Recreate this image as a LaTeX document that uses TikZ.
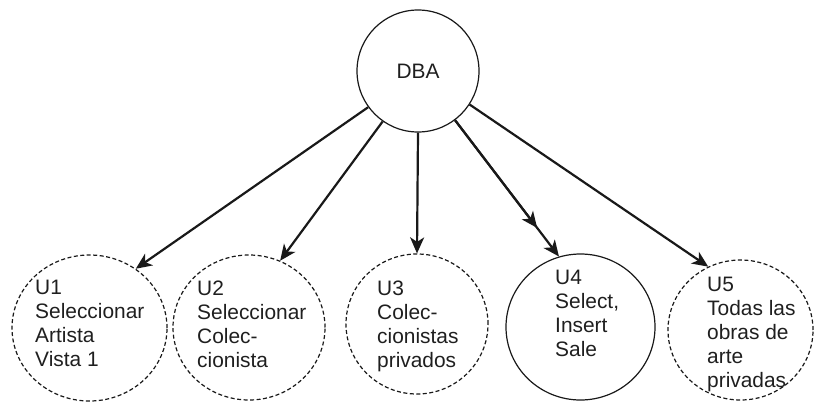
\documentclass[tikz,border=0pt]{standalone}
\usepackage{fontspec}
\setmainfont{Liberation Sans}
\usetikzlibrary{arrows.meta,shapes.geometric,calc}
\begin{document}
\begin{tikzpicture}[x=1pt,y=-1pt,
  every node/.style={font=\fontsize{20.9}{24}\selectfont, text=black!88},
  bubble/.style={ellipse, draw=black!90, line width=1.2pt, inner sep=0pt},
  dashbubble/.style={bubble, dash pattern=on 4pt off 2.5pt},
  lbl/.style={anchor=north west, align=left, inner sep=0pt},
  arr/.style={draw=black!90, line width=2.2pt, -{Stealth[length=16pt,width=14pt,inset=4.5pt]}}
]
\useasboundingbox (0,0) rectangle (814,402);
\node[bubble, minimum width=122pt, minimum height=122pt] (dba) at (418,71) {DBA};
\node[dashbubble, minimum width=155pt, minimum height=146pt] (u1) at (89.5,328) {};
\node[dashbubble, minimum width=152pt, minimum height=145pt] (u2) at (249,327.5) {};
\node[dashbubble, minimum width=142pt, minimum height=140pt] (u3) at (417,324) {};
\node[bubble, minimum width=149pt, minimum height=146pt] (u4) at (580.5,327) {};
\node[dashbubble, minimum width=145pt, minimum height=140pt] (u5) at (740.5,330) {};
\node[lbl] (t1) at (35,280.3) {U1\\Seleccionar\\Artista\\Vista 1};
\node[lbl] (t2) at (197,280.3) {U2\\Seleccionar\\Colec-\\cionista};
\node[lbl] (t3) at (377,280.3) {U3\\Colec-\\cionistas\\privados};
\node[lbl] (t4) at (555,270.3) {U4\\Select,\\Insert\\Sale};
\node[lbl] (t5) at (707,277.3) {U5\\Todas las\\obras de\\arte\\privadas};
\draw[arr] (dba.216) -- (u1.52);
\draw[arr] (dba.235) -- (u2.65);
\draw[arr] (dba.270) -- (u3.90);
\draw[arr] (dba.307) -- ($(dba.307)!0.79!(u4.107)$);
\draw[arr] (dba.307) -- (u4.107);
\draw[arr] (dba.327) -- (u5.117);
\end{tikzpicture}
\end{document}
